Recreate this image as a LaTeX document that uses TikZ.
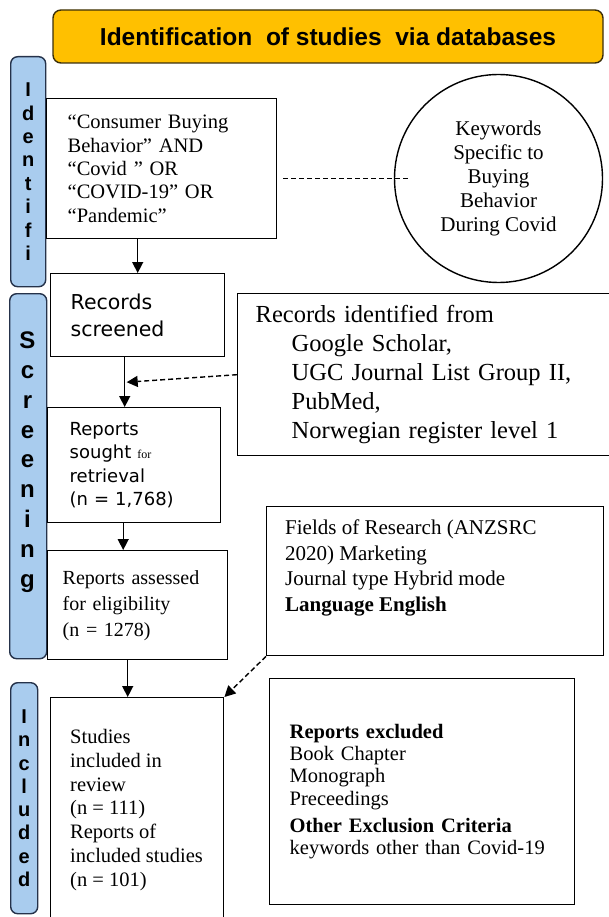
\documentclass[tikz,border=0pt]{standalone}
\usepackage{fontspec}
\setmainfont{Liberation Serif}
\newfontfamily\hdfont{Liberation Sans}
\newfontfamily\tahfont{DejaVu Sans}
\usetikzlibrary{arrows.meta,positioning,shapes.geometric,calc}
\definecolor{hdr}{HTML}{FFC000}
\definecolor{hdrline}{HTML}{3B2F0A}
\definecolor{side}{HTML}{A9CCEE}
\definecolor{sideline}{HTML}{25324A}
\newcommand{\fsz}[2]{\fontsize{#1}{#2}\selectfont}

\begin{document}
\begin{tikzpicture}[x=1pt,y=-1pt,
    box/.style={rectangle,draw,line width=1.4pt,anchor=north west,align=left,inner ysep=0pt},
    txt/.style={anchor=north west,align=left,inner sep=0pt},
    sidebar/.style={rectangle,draw=sideline,fill=side,rounded corners=7pt,line width=1.4pt,anchor=north west},
    arr/.style={-{Triangle[length=11pt,width=11pt]},line width=1.4pt},
    darr/.style={arr,dash pattern=on 5pt off 3pt},
    dline/.style={line width=1.6pt,dash pattern=on 5pt off 3pt},
]
\useasboundingbox (0,0) rectangle (608,917);

% Header
\node[draw=hdrline,fill=hdr,rounded corners=8pt,line width=1.4pt,minimum width=550pt,minimum height=53pt,font=\hdfont\bfseries\fsz{24.5}{29}] (title) at (328,36.5) {Identification\ \ of studies\ \ via databases};

% Side bars
\node[sidebar,minimum width=35pt,minimum height=230pt] (barI) at (10,56) {};
\node[sidebar,minimum width=37pt,minimum height=365pt] (barS) at (9,293) {};
\node[sidebar,minimum width=27pt,minimum height=231pt] (barC) at (10,682) {};
\node[font=\hdfont\bfseries\fsz{20}{23.4},align=center,inner sep=0pt] (lblI) at (barI) {I\\d\\e\\n\\t\\i\\f\\i};
\node[font=\hdfont\bfseries\fsz{24}{29.8},align=center,inner sep=0pt] (lblS) at (27.5,462) {S\\c\\r\\e\\e\\n\\i\\n\\g};
\node[font=\hdfont\bfseries\fsz{20}{23.3},align=center,inner sep=0pt] (lblC) at (barC) {I\\n\\c\\l\\u\\d\\e\\d};

% Identification
\node[box,minimum width=230pt,minimum height=140pt,text width=188pt,inner xsep=21pt,font=\fsz{20.5}{23.3}] (query) at (46,98)
  {“Consumer Buying\\Behavior” AND\\“Covid ” OR\\“COVID-19” OR\\“Pandemic”};
\node[circle,draw,line width=1.4pt,minimum size=208pt,align=center,font=\fsz{21}{24.2}] (kw) at (498.5,178.5)
  {Keywords\\Specific to\\Buying\\Behavior\\During Covid};

% Screening
\node[box,minimum width=174pt,minimum height=83pt,text width=134pt,inner xsep=20pt,font=\tahfont\fsz{20.5}{27}] (scr) at (50,273)
  {Records\\screened};
\node[box,minimum width=375pt,minimum height=162pt,text width=339pt,inner xsep=18pt,font=\fsz{24.5}{29}] (recid) at (237,293)
  {Records identified from\\\hspace*{36pt}Google Scholar,\\\hspace*{36pt}UGC Journal List Group II,\\\hspace*{36pt}PubMed,\\\hspace*{36pt}Norwegian register level 1};
\node[box,minimum width=173pt,minimum height=115pt,text width=129pt,inner xsep=22pt,font=\tahfont\fsz{18}{23.5}] (sought) at (47,407)
  {Reports\\sought {\rmfamily\fsz{12}{14}for}\\retrieval\\(n = 1,768)};
\node[box,minimum width=180pt,minimum height=109pt,text width=150pt,inner xsep=15pt,font=\fsz{20}{26}] (assessed) at (47,550)
  {Reports assessed\\for eligibility\\(n = 1278)};
\node[box,minimum width=337pt,minimum height=149pt] (fields) at (266,506) {};
\node[txt,font=\fsz{21}{25.5}] (fieldtxt) at ([xshift=19pt,yshift=-14pt]fields.north west)
  {Fields of Research (ANZSRC\\2020) Marketing\\Journal type Hybrid mode\\\textbf{Language English}};

% Included
\node[box,minimum width=173pt,minimum height=240pt] (studies) at (50,697) {};
\node[txt,font=\fsz{20.5}{23.8}] (studtxt) at ([xshift=20pt,yshift=-32pt]studies.north west)
  {Studies\\included in\\review\\(n = 111)\\Reports of\\included studies\\(n = 101)};
\node[box,minimum width=305pt,minimum height=226pt,text width=265pt,inner xsep=20pt,font=\fsz{20.5}{22.3}] (excl) at (269,678)
  {\textbf{Reports excluded}\\Book Chapter\\Monograph\\Preceedings\\[5pt]\textbf{Other Exclusion Criteria}\\keywords other than Covid-19};

% Connectors
\draw[dline] ([xshift=6pt]query.east |- kw.center) -- ([xshift=16pt]kw.west);
\draw[arr] (query.south -| scr.north) -- (scr.north);
\draw[arr] ([xshift=-13pt]scr.south) -- ([xshift=-13pt]scr.south |- sought.north) coordinate[pos=0.5] (mid);
\draw[darr] (recid.west) -- ([xshift=2pt]mid);
\draw[arr] ([xshift=-11pt]sought.south) -- ([xshift=-11pt]sought.south |- assessed.north);
\draw[arr] ([xshift=-10pt]assessed.south) -- ([xshift=-10pt]assessed.south |- studies.north);
\draw[darr] (fields.south west) -- (studies.north east);
\end{tikzpicture}
\end{document}
